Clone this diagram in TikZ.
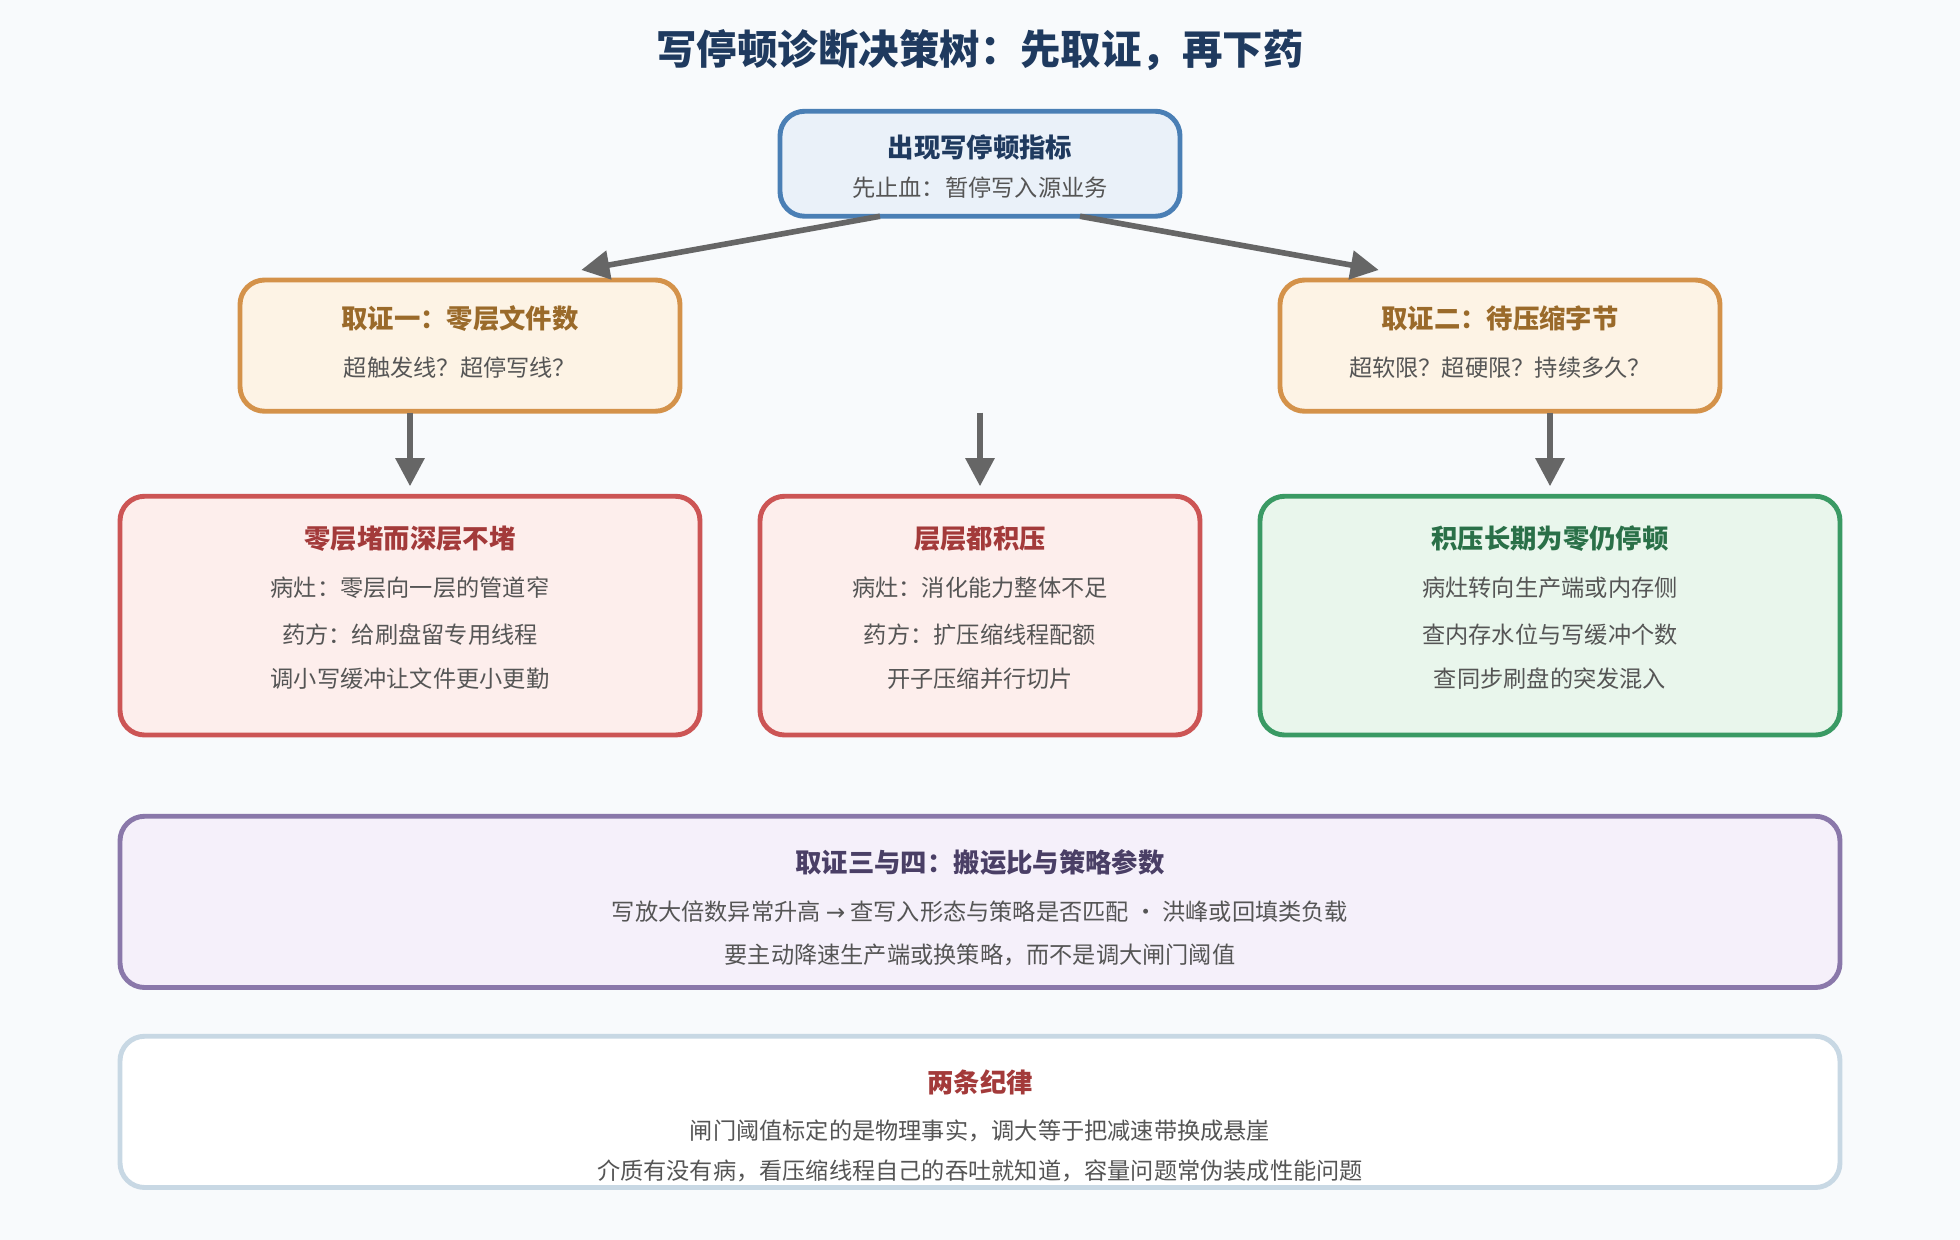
\documentclass[tikz,border=0pt]{standalone}
\usepackage{fontspec}
\setmainfont{Noto Sans CJK SC}
\usetikzlibrary{arrows.meta}
\definecolor{navy}{HTML}{1F3A5F}
\definecolor{pagebg}{HTML}{F8FAFC}
\definecolor{bluebd}{HTML}{4A7FB5}\definecolor{bluebg}{HTML}{EAF1F9}
\definecolor{orgbd}{HTML}{D4924A}\definecolor{orgbg}{HTML}{FDF3E5}\definecolor{orgtx}{HTML}{9A6A2A}
\definecolor{redbd}{HTML}{CC5555}\definecolor{redbg}{HTML}{FDEEEC}\definecolor{redtx}{HTML}{A33A3A}
\definecolor{grnbd}{HTML}{3A9A64}\definecolor{grnbg}{HTML}{E9F6EC}\definecolor{grntx}{HTML}{2A7048}
\definecolor{purbd}{HTML}{8A78AA}\definecolor{purbg}{HTML}{F5F0FA}\definecolor{purtx}{HTML}{4A3F66}
\definecolor{greybd}{HTML}{C8D8E4}\definecolor{bodytx}{HTML}{555555}
\tikzset{
  box/.style={draw, line width=1.4pt, rounded corners=7pt},
  head/.style={font=\bfseries\fontsize{7.5}{9}\selectfont},
  body/.style={font=\fontsize{6.6}{8}\selectfont, text=bodytx},
  link/.style={draw=black!60, line width=1.6pt, -{Triangle[length=8pt,width=8pt]}}
}
\begin{document}
\begin{tikzpicture}[x=0.0125cm,y=-0.0125cm]
    \fill[pagebg] (0,0) rectangle (1568,992);
    \useasboundingbox (0,0) rectangle (1568,992);
    \node[font=\bfseries\fontsize{11.5}{13}\selectfont, text=navy] (title) at (784,40) {写停顿诊断决策树：先取证，再下药};

    % top
    \draw[box, draw=bluebd, fill=bluebg] (624,89) rectangle (944,173);
    \node[head, text=navy] (top) at (784,118) {出现写停顿指标};
    \node[body] (topsub) at (784,150) {先止血：暂停写入源业务};
    \coordinate (topl) at (704,173);
    \coordinate (topr) at (864,173);

    % evidence boxes
    \draw[box, draw=orgbd, fill=orgbg] (192,224) rectangle (544,329);
    \draw[box, draw=orgbd, fill=orgbg] (1024,224) rectangle (1376,329);
    \node[head, text=orgtx] (ev1) at (368,255) {取证一：零层文件数};
    \node[body] at (368,294) {超触发线？超停写线？};
    \node[head, text=orgtx] (ev2) at (1200,255) {取证二：待压缩字节};
    \node[body] at (1200,294) {超软限？超硬限？持续多久？};
    \coordinate (ev1in) at (465,216);
    \coordinate (ev2in) at (1103,216);
    \draw[link] (topl) -- (ev1in);
    \draw[link] (topr) -- (ev2in);

    % diagnosis boxes
    \draw[box, draw=redbd, fill=redbg] (96,397) rectangle (560,588);
    \draw[box, draw=redbd, fill=redbg] (608,397) rectangle (960,588);
    \draw[box, draw=grnbd, fill=grnbg] (1008,397) rectangle (1472,588);
    \foreach \x/\col/\a/\b/\c/\d in {
        328/redtx/零层堵而深层不堵/病灶：零层向一层的管道窄/药方：给刷盘留专用线程/调小写缓冲让文件更小更勤,
        784/redtx/层层都积压/病灶：消化能力整体不足/药方：扩压缩线程配额/开子压缩并行切片,
        1240/grntx/积压长期为零仍停顿/病灶转向生产端或内存侧/查内存水位与写缓冲个数/查同步刷盘的突发混入}{
        \node[head, text=\col] (d\x) at (\x,431) {\a};
        \node[body] at (\x,470) {\b};
        \node[body] at (\x,508) {\c};
        \node[body] at (\x,543) {\d};
        \coordinate (s\x) at (\x,330);
        \coordinate (e\x) at (\x,389);
        \draw[link] (s\x) -- (e\x);
    }

    % evidence three and four
    \draw[box, draw=purbd, fill=purbg] (96,653) rectangle (1472,790);
    \node[head, text=purtx] (ev3) at (784,690) {取证三与四：搬运比与策略参数};
    \node[body] at (784,729) {写放大倍数异常升高 {\fontspec{DejaVu Sans}→} 查写入形态与策略是否匹配 · 洪峰或回填类负载};
    \node[body] at (784,764) {要主动降速生产端或换策略，而不是调大闸门阈值};

    % rules
    \draw[box, draw=greybd, fill=white] (96,829) rectangle (1472,950);
    \node[head, text=redtx] (rules) at (784,866) {两条纪律};
    \node[body] at (784,905) {闸门阈值标定的是物理事实，调大等于把减速带换成悬崖};
    \node[body] at (784,937) {介质有没有病，看压缩线程自己的吞吐就知道，容量问题常伪装成性能问题};
\end{tikzpicture}
\end{document}
